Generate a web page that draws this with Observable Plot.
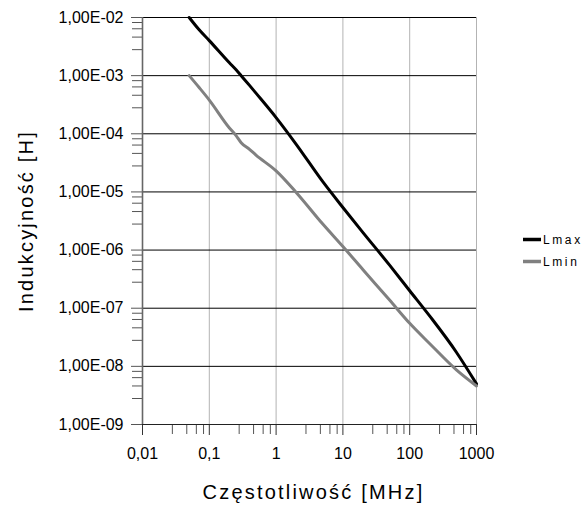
<!DOCTYPE html>
<html><head><meta charset="utf-8">
<script src="https://cdn.jsdelivr.net/npm/d3@7"></script>
<script src="https://cdn.jsdelivr.net/npm/@observablehq/plot@0.6"></script>
<style>body{margin:0;background:#fff;} svg{display:block}</style>
</head><body><div id="chart"></div>
<script>
// Frequency [MHz]
const freqs = [0.05, 0.07, 0.1, 0.2, 0.25, 0.3, 0.4, 0.5, 1, 2, 5, 10, 20, 50, 100, 200, 500, 1000];
// Inductance [H]
const lmax = [1e-2, 6.2e-3, 4e-3, 1.66e-3, 1.27e-3, 1.0e-3, 6.8e-4, 5.0e-4, 1.9e-4, 6.6e-5, 1.5e-5, 5.4e-6, 2.0e-6, 5.5e-7, 2.0e-7, 7.3e-8, 1.75e-8, 5e-9];
const lmin = [1e-3, 6.3e-4, 3.8e-4, 1.26e-4, 9.4e-5, 7.0e-5, 5.4e-5, 4.3e-5, 2.3e-5, 9.8e-6, 2.8e-6, 1.15e-6, 4.6e-7, 1.38e-7, 5.5e-8, 2.45e-8, 8.7e-9, 4.6e-9];
const seriesNames = ["Lmax", "Lmin"];
const seriesColors = ["#000000", "#808080"];

const xMajor = [0.01, 0.1, 1, 10, 100, 1000];
const xMajorLabels = ["0,01", "0,1", "1", "10", "100", "1000"];
const yMajor = [1e-9, 1e-8, 1e-7, 1e-6, 1e-5, 1e-4, 1e-3, 1e-2];
const yMajorLabels = ["1,00E-09", "1,00E-08", "1,00E-07", "1,00E-06", "1,00E-05", "1,00E-04", "1,00E-03", "1,00E-02"];
const minorSteps = [2.8, 4.6, 6.4, 8.2];

const xMinor = xMajor.slice(0, -1).flatMap(d => minorSteps.map(m => d * m));
const yMinor = yMajor.slice(0, -1).flatMap(d => minorSteps.map(m => d * m));

const rows = [];
freqs.forEach((f, i) => {
  rows.push({f, L: lmax[i], s: seriesNames[0]});
  rows.push({f, L: lmin[i], s: seriesNames[1]});
});

const plot = Plot.plot({
  width: 587, height: 506,
  marginTop: 17, marginRight: 111, marginBottom: 82, marginLeft: 142,
  style: {fontFamily: "'Liberation Sans', Arial, sans-serif", fontSize: "16px", background: "#fff", color: "#000"},
  x: {type: "log", domain: [0.01, 1000]},
  y: {type: "log", domain: [1e-9, 1e-2]},
  color: {domain: seriesNames, range: seriesColors},
  marks: [
    Plot.ruleX(xMajor.slice(1), {stroke: "#b3b3b3", strokeWidth: 1}),
    Plot.ruleY(yMajor.slice(1), {stroke: "#000", strokeWidth: 1}),
    Plot.axisY(yMajor, {tickSize: 11, tickPadding: 8, tickFormat: (d) => yMajorLabels[yMajor.indexOf(d)], label: null, fontSize: 16, stroke: "#555"}),
    Plot.axisY(yMinor, {tickSize: 10, tickFormat: () => "", label: null, stroke: "#555"}),
    Plot.axisX(xMajor, {tickSize: 11, tickPadding: 12, tickFormat: (d) => xMajorLabels[xMajor.indexOf(d)], label: null, fontSize: 16, stroke: "#333"}),
    Plot.axisX(xMinor, {tickSize: 10, tickFormat: () => "", label: null, stroke: "#555"}),
    Plot.ruleX([0.01], {stroke: "#666", strokeWidth: 1.6}),
    Plot.ruleY([1e-9], {stroke: "#222", strokeWidth: 1}),
    Plot.line(rows, {x: "f", y: "L", z: "s", stroke: "s", strokeWidth: 3, curve: "monotone-x"}),
    Plot.text(["Indukcyjność [H]"], {frameAnchor: "left", dx: -116, rotate: -90, fontSize: 20, textAnchor: "middle", lineAnchor: "middle", fill: "#000"}),
    Plot.text(["Częstotliwość [MHz]"], {frameAnchor: "bottom", dx: 4, dy: 68, fontSize: 20, textAnchor: "middle", lineAnchor: "middle", fill: "#000"})
  ]
});

document.getElementById("chart").appendChild(plot);

const svg = d3.select(plot);
svg.selectAll("text").filter(function() {
  return this.textContent === "Indukcyjność [H]" || this.textContent === "Częstotliwość [MHz]";
}).style("letter-spacing", "2.2px");

// Legend
const legend = svg.append("g")
  .attr("font-family", "'Liberation Sans', Arial, sans-serif")
  .attr("font-size", 12)
  .attr("text-anchor", "start");
const legendY = [239.5, 261.5];
seriesNames.forEach((name, i) => {
  legend.append("line")
    .attr("x1", 523).attr("x2", 541)
    .attr("y1", legendY[i]).attr("y2", legendY[i])
    .attr("stroke", seriesColors[i]).attr("stroke-width", 3.5);
  legend.append("text")
    .attr("x", 543).attr("y", legendY[i])
    .attr("dy", "0.35em")
    .attr("text-anchor", "start")
    .style("letter-spacing", "2.6px")
    .attr("fill", "#000")
    .text(name);
});
</script>
</body></html>
